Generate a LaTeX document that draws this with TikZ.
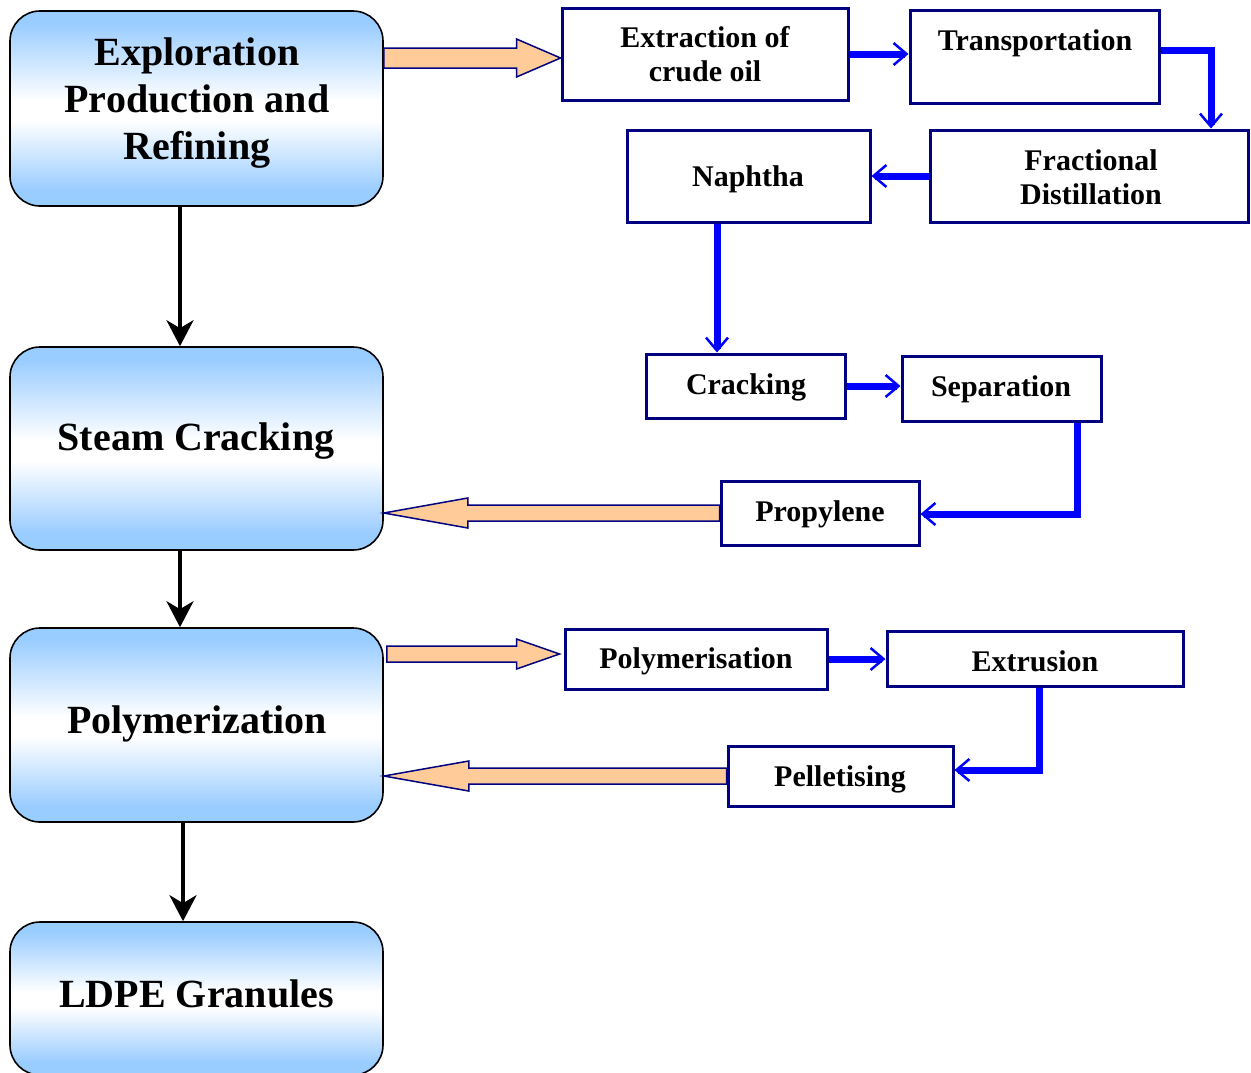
\documentclass[tikz,border=0pt]{standalone}
\usepackage{fontspec}
\setmainfont{Liberation Serif}
\usetikzlibrary{arrows.meta,calc}

\definecolor{skyb}{HTML}{99CCFF}
\definecolor{peach}{HTML}{FFCC99}
\definecolor{boxnavy}{HTML}{000080}
\definecolor{flowblue}{HTML}{0000FF}

% light blue at top and bottom, fading to white a little below the middle
\pgfdeclareverticalshading{boxshade}{100bp}{color(0bp)=(skyb); color(25bp)=(skyb); color(29bp)=(skyb); color(47bp)=(white); color(52bp)=(white); color(72bp)=(skyb); color(75bp)=(skyb); color(100bp)=(skyb)}

% wide block arrow: #1 tail point, #2 tip point, #3 shaft half-height,
% #4 head half-height, #5 head length (all in pt)
\newcommand\blockarrow[5]{%
  \draw[blockarrow] let \p1=(#1), \p2=(#2), \n1={sign(\x2-\x1)*#5} in
    (\x1,\y2+#3pt) -- (\x2-\n1*1pt,\y2+#3pt) -- (\x2-\n1*1pt,\y2+#4pt) -- (\x2,\y2)
    -- (\x2-\n1*1pt,\y2-#4pt) -- (\x2-\n1*1pt,\y2-#3pt) -- (\x1,\y2-#3pt) -- cycle;}

\begin{document}
\begin{tikzpicture}[x=1pt,y=-1pt,
  stage/.style={draw=black, line width=1.6pt, rounded corners=30pt, shading=boxshade,
    minimum width=373pt, inner sep=0pt},
  bigtext/.style={font=\fontsize{40}{47}\selectfont\bfseries, align=center, inner sep=0pt},
  stepbox/.style={draw=boxnavy, line width=3pt, fill=white, inner sep=0pt},
  steptext/.style={font=\fontsize{30}{34}\selectfont\bfseries, align=center, inner sep=0pt},
  down/.style={draw=black, line width=4pt, -{Stealth[length=26pt,width=27pt,inset=8pt]}},
  flow/.style={draw=flowblue, line width=7pt,
    -{Straight Barb[length=13pt,width=22pt,line width=2.5pt]}},
  blockarrow/.style={draw=boxnavy, line width=1.5pt, fill=peach, line join=miter}]

\useasboundingbox (0,0) rectangle (1251,1072);

% main stages
\node[stage, minimum height=195pt] (b1) at (196.5,108.5) {};
\node[stage, minimum height=203pt] (b2) at (196.5,448.5) {};
\node[stage, minimum height=194pt] (b3) at (196.5,725) {};
\node[stage, minimum height=153pt] (b4) at (196.5,998.5) {};

\node[bigtext] (t-b1) at (197,103) {Exploration\\Production and\\Refining};
\node[bigtext, anchor=base] (t-b2) at (196,450) {Steam Cracking};
\node[bigtext, anchor=base] (t-b3) at (197,733) {Polymerization};
\node[bigtext, anchor=base] (t-b4) at (196.5,1007) {LDPE Granules};

\coordinate (ax1) at (180,0);
\coordinate (ax2) at (183,0);
\draw[down] (b1.south -| ax1) -- (b2.north -| ax1);
\draw[down] (b2.south -| ax1) -- (b3.north -| ax1);
\draw[down] (b3.south -| ax2) -- (b4.north -| ax2);

% process steps
\node[stepbox, minimum width=286pt, minimum height=92pt] (ext) at (705,54) {};
\node[stepbox, minimum width=249pt, minimum height=93pt] (trans) at (1034.5,56.5) {};
\node[stepbox, minimum width=318pt, minimum height=92pt] (frac) at (1089,176) {};
\node[stepbox, minimum width=243pt, minimum height=92pt] (naph) at (748.5,176) {};
\node[stepbox, minimum width=199pt, minimum height=64pt] (crack) at (745.5,386) {};
\node[stepbox, minimum width=199pt, minimum height=65pt] (sep) at (1001.5,388.5) {};
\node[stepbox, minimum width=198pt, minimum height=64pt] (prop) at (820,513) {};
\node[stepbox, minimum width=262pt, minimum height=60pt] (poly) at (696,659) {};
\node[stepbox, minimum width=296pt, minimum height=55pt] (extr) at (1035,658.5) {};
\node[stepbox, minimum width=225pt, minimum height=60pt] (pel) at (840.5,776) {};

\node[steptext] (t-ext) at (705,54) {Extraction of\\crude oil};
\node[steptext, anchor=base] (t-trans) at (1035,50) {Transportation};
\node[steptext] (t-frac) at (1091,177) {Fractional\\Distillation};
\node[steptext, anchor=base] (t-naph) at (748,186) {Naphtha};
\node[steptext, anchor=base] (t-crack) at (746,394) {Cracking};
\node[steptext, anchor=base] (t-sep) at (1001,396) {Separation};
\node[steptext, anchor=base] (t-prop) at (820,521) {Propylene};
\node[steptext, anchor=base] (t-poly) at (696,668) {Polymerisation};
\node[steptext, anchor=base] (t-extr) at (1035,671) {Extrusion};
\node[steptext, anchor=base] (t-pel) at (840,786) {Pelletising};

% flow between steps
\coordinate (tbend) at (1211,50);
\coordinate (nx) at (717,300);
\coordinate (sbend) at (1077,514);
\coordinate (ebend) at (1039,770);
\draw[flow] (ext.east) -- (trans.west |- ext.east);
\draw[flow] (trans.east |- tbend) -- (tbend) -- (frac.north -| tbend);
\draw[flow] (frac.west) -- (naph.east);
\draw[flow] (naph.south -| nx) -- (crack.north -| nx);
\draw[flow] (crack.east) -- (sep.west |- crack.east);
\draw[flow] (sep.south -| sbend) -- (sbend) -- (prop.east |- sbend);
\draw[flow] (poly.east) -- (extr.west |- poly.east);
\draw[flow] (extr.south -| ebend) -- (ebend) -- (pel.east |- ebend);

% block arrows between stages and steps
\coordinate (tip1) at ($(ext.west)+(0,4)$);
\coordinate (tip3) at ($(poly.west)+(-4,-5)$);
\coordinate (tail3) at ($(b3.east |- tip3)+(3,0)$);
\blockarrow{b1.east |- tip1}{tip1}{10}{19}{44}
\blockarrow{prop.west}{b2.east |- prop.west}{8}{15}{84}
\blockarrow{tail3}{tip3}{8}{15}{43}
\blockarrow{pel.west}{b3.east |- pel.west}{8}{15}{85}

\end{tikzpicture}
\end{document}
